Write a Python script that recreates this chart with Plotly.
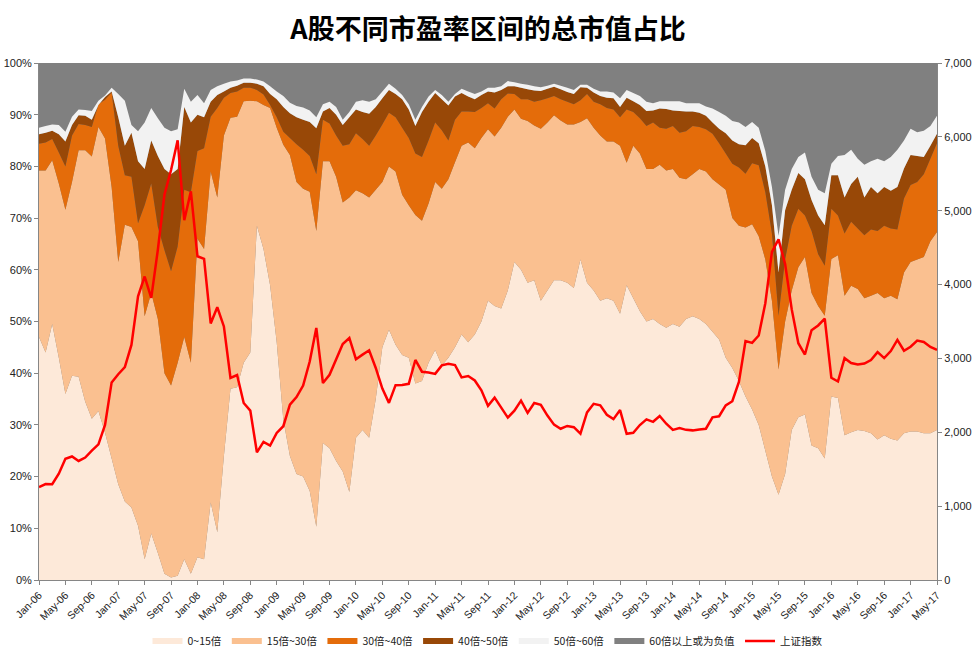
import pandas as pd
import plotly.graph_objects as go

# Monthly categories Jan-06 .. May-17
months = pd.date_range("2006-01-01", periods=137, freq="MS").strftime("%b-%y").tolist()
tick_labels = months[::4]

# Upper edge of each stacked band (cumulative share of total market cap, %)
cum_0_15 = [
    47, 44, 49.5, 43, 36, 39.5, 39.3, 34.5, 31.2, 32.7, 28.5, 23.5,
    18.5, 15.2, 14, 10.5, 4, 9, 5.2, 1.2, 0.5, 0.8, 4, 1.2,
    4.4, 4, 15, 9.3, 24, 37, 37.3, 42, 44, 68.5, 64, 57,
    46, 31, 24, 20.5, 20, 17.2, 10.3, 26.5, 25.5, 23, 21, 17,
    27.5, 29, 27.5, 35, 45, 48.4, 45.5, 43.5, 43, 38, 38.5, 42,
    44.5, 41.5, 43, 45, 47.5, 46, 47.5, 50, 54, 53, 52.5, 56,
    61.5, 60, 57.5, 58, 54, 56, 58, 58, 57.5, 56.5, 62, 57.5,
    56, 54, 54.5, 54, 51.5, 57, 54.5, 52, 50, 50.5, 49.5, 48.8,
    49.5, 49, 50.5, 51, 50.5, 49.5, 48, 46.5, 43, 41, 38.5, 35.5,
    33, 30, 25, 20, 16.5, 20.5, 29, 31.5, 32, 26, 25.5, 23.5,
    35.5, 35.2, 28, 28.6, 29, 28.8, 28.4, 27.2, 28, 27.3, 27, 28.4,
    28.7, 28.7, 28.4, 28.4, 29,
]
cum_0_30 = [
    79.2, 79.2, 81.2, 76.7, 71.6, 77, 83.1, 83.1, 81.9, 87.6, 85.4, 76,
    61.5, 68.7, 68.3, 65.5, 51, 55.5, 50.5, 40, 37.6, 42, 47, 42,
    66, 64, 79, 74, 86, 89.4, 89.6, 92.6, 92.7, 92.6, 91.9, 91.3,
    87.5, 84.2, 82.2, 77, 75.7, 75.1, 67.5, 81, 81, 78, 73, 74,
    75.4, 74.8, 74, 75.5, 77, 80, 79, 74.5, 72.5, 70.6, 69.5, 72.8,
    77, 75.7, 77.5, 80.8, 84, 84.6, 83.5, 85.5, 87.2, 85.8, 87.5, 89.6,
    91, 89.2, 88.8, 87.9, 87.3, 88.5, 89.9, 88.9, 88.1, 88.1, 88.6, 89.3,
    87.5, 86, 84.8, 84.8, 84, 80.7, 84, 82.5, 79.5, 79.5, 80.3, 79.2,
    79.5, 77.8, 77.5, 78.5, 79.5, 79, 77.5, 76.5, 75.5, 70, 68.5, 68.2,
    68.8, 66.5, 62, 54, 40.7, 50, 56, 60.5, 62.5, 55.5, 53, 51.1,
    62.1, 62.8, 55, 56.9, 56.3, 54.5, 55, 55.5, 54.5, 55, 54.3, 59.5,
    61.5, 62, 62.5, 65.5, 67.3,
]
cum_0_40 = [
    84.4, 84.6, 85.3, 82.7, 80, 86, 88.2, 88, 87.6, 92, 92.9, 94.3,
    84, 78.3, 78, 69, 72.5, 76.7, 68.3, 63.8, 59.7, 64.5, 75.5, 75,
    83, 83.5, 89.6, 91.3, 93.3, 94.2, 94.5, 95.2, 95.2, 94.8, 93.9, 91.9,
    89.5, 86.7, 85.5, 84.3, 83.2, 82, 78.5, 89, 88.3, 86, 84, 84.3,
    86.4, 85.3, 84, 86, 88.1, 90.4, 89.5, 87.5, 85.5, 82.5, 81.8, 85,
    88.5, 87, 85, 89, 90.6, 90.6, 90.5, 91.3, 92.2, 91.2, 93, 94.1,
    94, 93, 93, 92.5, 92.8, 93.2, 93.6, 93, 92.5, 92, 92.8, 94,
    92.5, 92, 91.3, 91, 89.5, 91, 90.5, 89.3, 87.8, 88.5, 87.5, 87.3,
    87.8, 86.5, 86.8, 87.8, 87.6, 87.2, 86.3, 84.5, 82.5, 80.5, 79.8, 78.6,
    80.6, 80.2, 75, 67, 51.1, 62, 68.5, 71.8, 70.5, 67.5, 63, 60.8,
    71.8, 70.5, 67, 69.3, 68, 66.7, 67.8, 67.5, 68.5, 68, 67.8, 73.8,
    76.4, 77, 78.5, 81.5, 84.5,
]
cum_0_50 = [
    86.2, 86.5, 86.9, 86.2, 84.8, 88, 89.9, 89.8, 89, 91.9, 93.4, 94.5,
    89.5, 84, 86.5, 81, 79.5, 85, 82, 79.5, 78.5, 79.5, 91.5, 88.5,
    90, 89.5, 92.5, 93.8, 94.5, 95.2, 95.6, 96.2, 96.2, 96, 95.5, 94,
    93, 91.5, 90.3, 89.5, 89, 88.6, 87.4, 90.6, 91.3, 90, 88, 89.5,
    91, 90.5, 90.2, 91.5, 93.2, 94.8, 94, 93, 91, 87.8, 90.5, 92.5,
    94.2, 93, 91.8, 93.5, 94.2, 93.5, 93, 93.8, 94.5, 94.3, 94.8, 95.5,
    95.5, 95.2, 94.9, 94.7, 94.6, 95, 95.4, 94.9, 94.4, 94, 95.3, 95.2,
    94.3, 93.6, 93.3, 93.2, 91.5, 93.3, 92.6, 91.9, 90.7, 90.8, 91.2, 91.1,
    90.8, 90.7, 90.6, 90.6, 90.4, 89.8, 88.5, 87.3, 86.4, 85, 84.3, 84.1,
    85.5, 84.5, 80, 72.5, 59.5, 71.5, 75.5, 78.7, 77.5, 73.5, 70.5, 68.6,
    78.3, 78.3, 74, 76.6, 78, 74, 76, 74.8, 76, 75.3, 76, 79.6,
    82.2, 82, 81.8, 84, 86.3,
]
cum_0_60 = [
    87.5, 87.8, 88.1, 88, 86.7, 89.6, 91, 90.9, 90.7, 92.7, 93.7, 95.2,
    94, 92.7, 88, 86.8, 88.5, 91.3, 89.3, 87.5, 86.8, 87.2, 95, 92.5,
    93.8, 92.2, 94.8, 95.5, 96, 96.4, 96.6, 97, 97, 96.8, 96.4, 95.5,
    94.5, 93.6, 92.3, 91.7, 91.4, 90.8, 89.5, 92, 92.5, 91.5, 89, 90.5,
    92.5, 92.8, 92.5, 93, 94.5, 96, 95, 93.8, 92, 89, 91.5, 93.5,
    94.8, 93.8, 92.5, 94, 95, 94.5, 94, 94.5, 95.2, 95.2, 95.5, 96.5,
    96.3, 96, 95.8, 95.5, 95.3, 95.6, 96, 95.6, 95.2, 94.8, 95.8, 95.8,
    95, 94.5, 94.5, 94.3, 93.2, 94.8, 94.2, 93.6, 92.5, 92.2, 92.6, 92.6,
    92.6, 92.6, 92.2, 92.2, 92.2, 91.6, 91.2, 90.5, 89.8, 88.8, 88.5, 87.6,
    88.6, 87.5, 83, 76, 66.6, 75.5, 79.5, 81.8, 82.7, 78, 75.5, 74.8,
    80.5, 82, 82.2, 83.2, 81.5, 80.3, 81, 81.5, 81, 81.8, 83.2, 85,
    87.3, 86.6, 86.9, 87.8, 89.8,
]
# Shanghai Composite, month-end close
sh_index = [
    1259, 1299, 1298, 1440, 1641, 1672, 1612, 1658, 1752, 1837, 2099, 2675,
    2786, 2881, 3183, 3841, 4109, 3820, 4471, 5218, 5552, 5954, 4871, 5262,
    4383, 4348, 3473, 3693, 3433, 2736, 2775, 2397, 2293, 1729, 1871, 1821,
    1991, 2082, 2373, 2477, 2633, 2959, 3412, 2667, 2779, 2996, 3195, 3277,
    2989, 3051, 3110, 2871, 2592, 2398, 2638, 2639, 2656, 2979, 2820, 2809,
    2791, 2906, 2928, 2911, 2743, 2762, 2701, 2568, 2359, 2469, 2333, 2199,
    2293, 2429, 2263, 2397, 2373, 2226, 2103, 2048, 2086, 2069, 1981, 2269,
    2385, 2366, 2237, 2178, 2301, 1979, 1994, 2098, 2175, 2142, 2221, 2116,
    2033, 2056, 2033, 2026, 2039, 2048, 2202, 2217, 2364, 2420, 2683, 3235,
    3210, 3310, 3748, 4442, 4612, 4277, 3664, 3206, 3053, 3383, 3446, 3539,
    2738, 2688, 3004, 2938, 2917, 2930, 2979, 3085, 3005, 3100, 3250, 3104,
    3159, 3242, 3223, 3155, 3117,
]

band_names = ["0~15倍", "15倍~30倍", "30倍~40倍", "40倍~50倍", "50倍~60倍", "60倍以上或为负值"]
band_colors = ["#FDE9D9", "#FAC090", "#E46C0A", "#984807", "#F2F2F2", "#808080"]
band_edges = [cum_0_15, cum_0_30, cum_0_40, cum_0_50, cum_0_60]

fig = go.Figure()
for i, (name, edge) in enumerate(zip(band_names[:5], band_edges)):
    fig.add_trace(go.Scatter(
        x=months, y=edge, name=name, mode="none",
        fill="tozeroy" if i == 0 else "tonexty",
        fillcolor=band_colors[i], hoverinfo="skip",
    ))
# the top band (60x+ or negative) fills the rest of the plot area up to 100%
fig.add_trace(go.Scatter(
    x=[None], y=[None], name=band_names[5], mode="none",
    fill="toself", fillcolor=band_colors[5],
))
fig.add_trace(go.Scatter(
    x=months, y=sh_index, name="上证指数", yaxis="y2", mode="lines",
    line=dict(color="#FF0000", width=2.5),
))

axis_col = "#868686"
font_lat = "Liberation Sans, Arial, sans-serif"
fig.update_layout(
    width=977, height=664,
    margin=dict(l=39, r=40, t=63, b=84, autoexpand=False),
    paper_bgcolor="white",
    plot_bgcolor=band_colors[5],
    font=dict(family=font_lat, size=11, color="#222222"),
    title=dict(
        text="<b>A股不同市盈率区间的总市值占比</b>",
        font=dict(family="Noto Sans CJK SC", size=27, color="#000000"),
        x=0.5, xref="paper", xanchor="center",
        y=1 - 30 / 664, yref="container", yanchor="middle",
    ),
    xaxis=dict(
        type="category", range=[0, len(months) - 1],
        tickmode="array", tickvals=tick_labels, ticktext=tick_labels,
        tickangle=-45, tickfont=dict(size=10.5, family=font_lat, color="#222222"),
        showline=True, linecolor=axis_col, linewidth=1,
        ticks="outside", ticklen=4, tickcolor=axis_col,
        showgrid=False, zeroline=False, automargin=False,
    ),
    yaxis=dict(
        range=[0, 100], dtick=10, ticksuffix="%",
        showline=True, linecolor=axis_col, linewidth=1,
        ticks="outside", ticklen=4, tickcolor=axis_col,
        showgrid=False, zeroline=False, automargin=False,
        tickfont=dict(size=11, family=font_lat, color="#222222"),
    ),
    yaxis2=dict(
        overlaying="y", side="right", range=[0, 7000], dtick=1000,
        tickformat=",d",
        showline=True, linecolor=axis_col, linewidth=1,
        ticks="outside", ticklen=4, tickcolor=axis_col,
        showgrid=False, zeroline=False, automargin=False,
        tickfont=dict(size=11, family=font_lat, color="#222222"),
    ),
    legend=dict(
        orientation="h", x=0.5, xanchor="center",
        y=(580 - 641) / 517, yanchor="middle",
        font=dict(family="Noto Sans CJK SC", size=10.5, color="#222222"),
        bgcolor="rgba(0,0,0,0)",
        traceorder="normal",
    ),
    showlegend=True,
)

fig.write_html(
    "out.html",
    config={"displayModeBar": False},
    post_script="document.body.style.margin='0px';",
)
